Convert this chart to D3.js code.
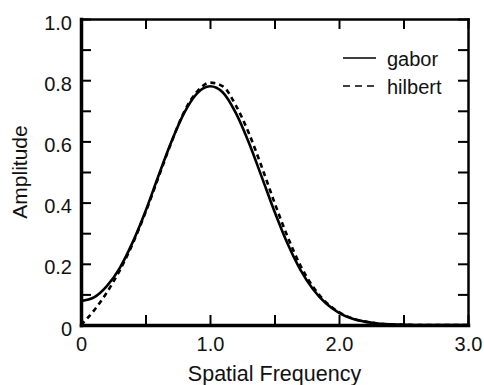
<!DOCTYPE html>
<html>
<head>
<meta charset="utf-8">
<script src="https://cdn.jsdelivr.net/npm/d3@7/dist/d3.min.js"></script>
<style>
    body { margin: 0; background: #fff; }
    text { font-family: "Liberation Sans", Arial, Helvetica, sans-serif; fill: #111; }
</style>
</head>
<body>
<svg id="chart" width="484" height="385"></svg>
<script>
let freq = [0.0, 0.1, 0.2, 0.3, 0.4, 0.5, 0.6, 0.7, 0.8, 0.9, 1.0, 1.1, 1.2, 1.3, 1.4,
    1.5, 1.6, 1.7, 1.8, 1.9, 2.0, 2.1, 2.2, 2.3, 2.4, 2.5, 2.6, 2.8, 3.0];
let gabor = [0.078, 0.090, 0.127, 0.186, 0.270, 0.372, 0.487, 0.598, 0.693, 0.757, 0.780, 0.760, 0.693,
    0.597, 0.485, 0.371, 0.267, 0.181, 0.116, 0.070, 0.040, 0.021, 0.011, 0.005, 0.002, 0.001, 0.0, 0.0, 0.0];
let hilbert = [0.0, 0.047, 0.106, 0.178, 0.265, 0.368, 0.482, 0.596, 0.697, 0.763, 0.792, 0.780, 0.718,
    0.628, 0.518, 0.400, 0.290, 0.195, 0.124, 0.074, 0.042, 0.022, 0.011, 0.005, 0.002, 0.001, 0.0, 0.0, 0.0];

let seriesNames = ["gabor", "hilbert"];
let xTicks = [0, 0.5, 1.0, 1.5, 2.0, 2.5, 3.0];
let xTickLabels = ["0", "", "1.0", "", "2.0", "", "3.0"];
let yTicks = [0, 0.1, 0.2, 0.3, 0.4, 0.5, 0.6, 0.7, 0.8, 0.9, 1.0];
let yTickLabels = ["0", "", "0.2", "", "0.4", "", "0.6", "", "0.8", "", "1.0"];

let svg = d3.select("#chart");
let margin = {
    top: 19,
    right: 16,
    bottom: 60,
    left: 81
};
let width = +svg.attr("width") - margin.left - margin.right;
let height = +svg.attr("height") - margin.top - margin.bottom;
let g = svg.append("g").attr("transform", "translate(" + margin.left + "," + margin.top + ")");

let x = d3.scaleLinear().domain([0, 3]).range([0, width]);
let y = d3.scaleLinear().domain([0, 1]).range([height, 0]);

// curves
let rows = freq.map(function (f, i) {
    return { f: f, gabor: gabor[i], hilbert: hilbert[i] };
});

let lineFor = function (key) {
    return d3.line()
        .x(function (d) { return x(d.f); })
        .y(function (d) { return y(d[key]); })
        .curve(d3.curveMonotoneX);
};

g.append("path")
    .datum(rows)
    .attr("fill", "none")
    .attr("stroke", "#000")
    .attr("stroke-width", 2.6)
    .attr("d", lineFor("hilbert"))
    .attr("stroke-dasharray", "5,4");

g.append("path")
    .datum(rows)
    .attr("fill", "none")
    .attr("stroke", "#000")
    .attr("stroke-width", 2.6)
    .attr("d", lineFor("gabor"));

// axes, ticks point inward on all four sides
function styleAxis(sel, domainWidth) {
    sel.select(".domain")
        .attr("stroke", "#000")
        .attr("stroke-width", domainWidth)
        .attr("stroke-linecap", "square");
    sel.selectAll(".tick line").attr("stroke", "#000").attr("stroke-width", 2);
    sel.selectAll("text").attr("font-size", 20).attr("fill", "#111");
}

let bottomAxis = g.append("g")
    .attr("transform", "translate(0," + height + ")")
    .call(d3.axisBottom(x).tickValues(xTicks).tickSize(-10).tickSizeOuter(0).tickPadding(12)
        .tickFormat(function (d, i) { return xTickLabels[i]; }));
styleAxis(bottomAxis, 3.5);
bottomAxis.selectAll("text").attr("dy", "0.71em");

let leftAxis = g.append("g")
    .call(d3.axisLeft(y).tickValues(yTicks).tickSize(-10).tickSizeOuter(0).tickPadding(9)
        .tickFormat(function (d, i) { return yTickLabels[i]; }));
styleAxis(leftAxis, 3.5);
leftAxis.selectAll("text").attr("dy", "0.5em");

let topAxis = g.append("g")
    .call(d3.axisTop(x).tickValues(xTicks).tickSize(-10).tickSizeOuter(0).tickFormat(""));
styleAxis(topAxis, 2.5);

let rightAxis = g.append("g")
    .attr("transform", "translate(" + width + ",0)")
    .call(d3.axisRight(y).tickValues(yTicks).tickSize(-10).tickSizeOuter(0).tickFormat(""));
styleAxis(rightAxis, 2.5);

// axis titles
g.append("text")
    .attr("x", width / 2)
    .attr("y", height + 56)
    .attr("text-anchor", "middle")
    .attr("font-size", 21.5)
    .text("Spatial Frequency");

g.append("text")
    .attr("transform", "translate(" + (-54) + "," + (height / 2) + ") rotate(-90)")
    .attr("text-anchor", "middle")
    .attr("font-size", 21)
    .text("Amplitude");

// legend
let legend = g.append("g").attr("transform", "translate(262,39)");
seriesNames.forEach(function (name, i) {
    let row = legend.append("g").attr("transform", "translate(0," + (i * 28) + ")");
    row.append("line")
        .attr("x1", 0)
        .attr("x2", 33)
        .attr("stroke", "#000")
        .attr("stroke-width", 1.6)
        .attr("stroke-dasharray", i === 1 ? "7,5" : null);
    row.append("text")
        .attr("x", 44)
        .attr("y", 7.5)
        .attr("font-size", 20)
        .text(name);
});
</script>
</body>
</html>
